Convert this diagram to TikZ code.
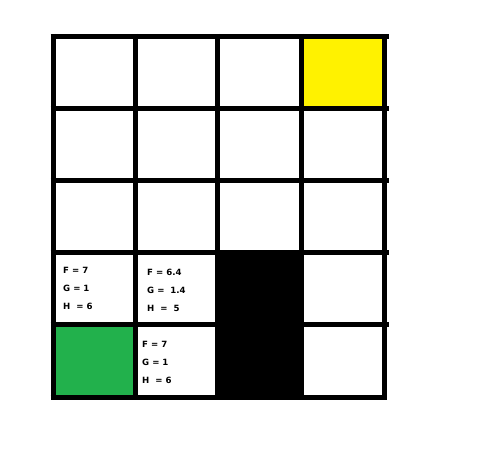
\documentclass[tikz,border=0pt]{standalone}
\usepackage{fontspec}
\newfontfamily\cellfont{DejaVu Sans}
\definecolor{cellyellow}{HTML}{FFF200}
\definecolor{cellgreen}{HTML}{22B14C}
\tikzset{
  gridline/.style={line width=5pt, black},
  val/.style={anchor=west, inner sep=0pt, font=\cellfont\bfseries\fontsize{8.6}{10}\selectfont},
}
\begin{document}
\begin{tikzpicture}[x=1pt,y=-1pt]
\useasboundingbox (0,0) rectangle (477,473);
% coloured cells
\fill[cellyellow] (301,36.5) rectangle (384,108.5);
\fill[cellgreen] (53,325) rectangle (135,397);
\fill[black] (215,252.5) rectangle (303,397);
% horizontal lines
\foreach \y in {36.5,108.5,181,252.5,325} \draw[gridline] (50.5,\y) -- (389,\y);
\draw[gridline] (50.5,397) -- (386.5,397);
% vertical lines
\foreach \x in {53,135,217.5,301,384} \draw[gridline] (\x,34) -- (\x,399.5);
% texts
\node[val] (a1) at (63,270) {F = 7};
\node[val] (a2) at (63,288) {G = 1};
\node[val] (a3) at (63,306) {H\ \ = 6};
\node[val] (b1) at (147,272) {F = 6.4};
\node[val] (b2) at (147,290) {G =\ \ 1.4};
\node[val] (b3) at (147,308) {H\ \ =\ \ 5};
\node[val] (c1) at (142,344) {F = 7};
\node[val] (c2) at (142,362) {G = 1};
\node[val] (c3) at (142,380) {H\ \ = 6};
\end{tikzpicture}
\end{document}
